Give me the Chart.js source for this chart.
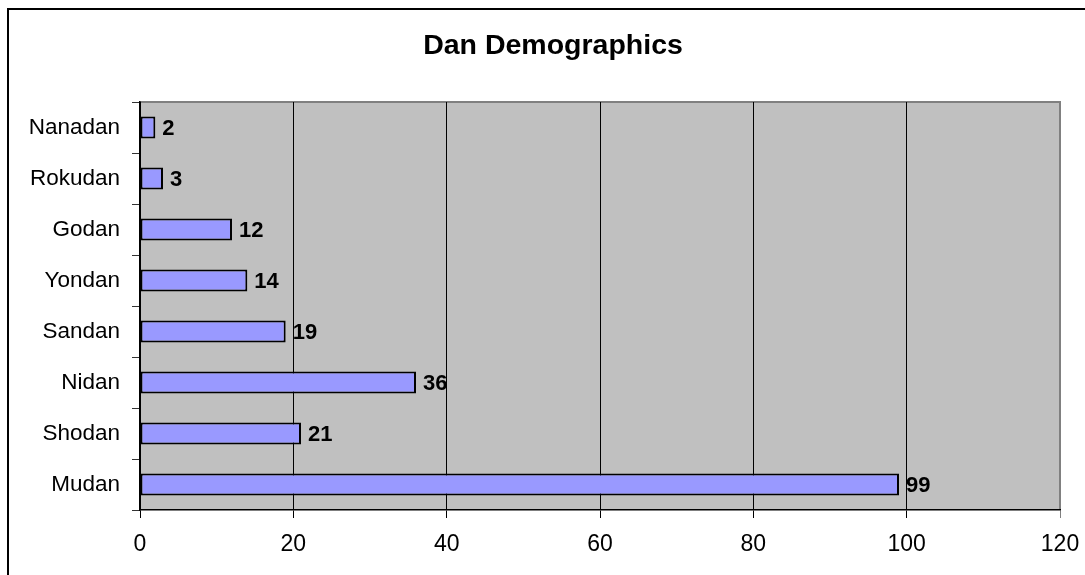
<!DOCTYPE html>
<html>
<head>
<meta charset="utf-8">
<script src="https://cdn.jsdelivr.net/npm/chart.js@4/dist/chart.umd.min.js"></script>
<style>
  html, body { margin: 0; padding: 0; background: #fff; }
  #wrap { width: 1085px; height: 575px; }
</style>
</head>
<body>
<div id="wrap"><canvas id="chart" width="1085" height="575"></canvas></div>
<script>
const title = 'Dan Demographics';
const categories = ['Nanadan', 'Rokudan', 'Godan', 'Yondan', 'Sandan', 'Nidan', 'Shodan', 'Mudan'];
const members = [2, 3, 12, 14, 19, 36, 21, 99];
const xMin = 0;
const xMax = 120;
const xStep = 20;

const FONT = '"Liberation Sans", Arial, sans-serif';

// white page, the frame's top and left edges and the grey plot panel
const backdrop = {
  id: 'backdrop',
  beforeDraw(chart) {
    const { ctx, chartArea: a } = chart;
    ctx.save();
    ctx.fillStyle = '#fff';
    ctx.fillRect(0, 0, chart.width, chart.height);
    ctx.strokeStyle = '#000';
    ctx.lineWidth = 2;
    ctx.beginPath();
    ctx.moveTo(8, chart.height);
    ctx.lineTo(8, 9);
    ctx.lineTo(chart.width, 9);
    ctx.stroke();
    ctx.fillStyle = '#c0c0c0';
    ctx.fillRect(a.left, a.top, a.right - a.left, a.bottom - a.top);
    ctx.strokeStyle = '#808080';
    ctx.lineWidth = 2;
    ctx.beginPath();
    ctx.moveTo(a.left, a.top);
    ctx.lineTo(a.right, a.top);
    ctx.lineTo(a.right, a.bottom);
    ctx.stroke();
    ctx.restore();
  },
  afterDraw(chart) {
    const { ctx } = chart;
    ctx.save();
    ctx.fillStyle = '#000';
    ctx.font = 'bold 28.5px ' + FONT;
    ctx.textAlign = 'center';
    ctx.textBaseline = 'alphabetic';
    ctx.fillText(title, 553, 54);
    ctx.restore();
  },
};

// value labels to the right of each bar
const valueLabels = {
  id: 'valueLabels',
  afterDatasetsDraw(chart) {
    const { ctx } = chart;
    const meta = chart.getDatasetMeta(0);
    ctx.save();
    ctx.fillStyle = '#000';
    ctx.font = 'bold 22px ' + FONT;
    ctx.textAlign = 'left';
    ctx.textBaseline = 'middle';
    meta.data.forEach((bar, i) => {
      ctx.fillText(String(members[i]), bar.x + 7, bar.y + 1);
    });
    ctx.restore();
  },
};

new Chart(document.getElementById('chart'), {
  type: 'bar',
  data: {
    labels: categories,
    datasets: [{
      data: members,
      backgroundColor: '#9999ff',
      borderColor: '#000',
      borderWidth: 2,
      borderSkipped: false,
      barPercentage: 0.43,
      categoryPercentage: 1,
    }],
  },
  options: {
    indexAxis: 'y',
    responsive: false,
    animation: false,
    layout: { padding: { top: 102, right: 25, left: 0, bottom: 0 } },
    plugins: {
      legend: { display: false },
      title: { display: false },
      tooltip: { enabled: false },
    },
    scales: {
      x: {
        min: xMin,
        max: xMax,
        afterFit: s => {
          s.height = 65;
          s.paddingLeft = 0;
          s.paddingRight = 0;
        },
        ticks: {
          stepSize: xStep,
          color: '#000',
          font: { family: FONT, size: 23 },
          padding: 13,
          maxRotation: 0,
        },
        grid: {
          color: ctx => (ctx.tick && ctx.tick.value === xMax ? '#808080' : '#000'),
          lineWidth: 1,
          tickLength: 8,
        },
        border: { color: '#000', width: 1.5 },
      },
      y: {
        afterFit: s => { s.width = 140; },
        ticks: {
          color: '#000',
          font: { family: FONT, size: 22.5 },
          padding: 12,
        },
        grid: {
          drawOnChartArea: false,
          color: '#333',
          tickLength: 8,
          offset: true,
        },
        border: { color: '#000', width: 1.5 },
      },
    },
  },
  plugins: [backdrop, valueLabels],
});
</script>
</body>
</html>
